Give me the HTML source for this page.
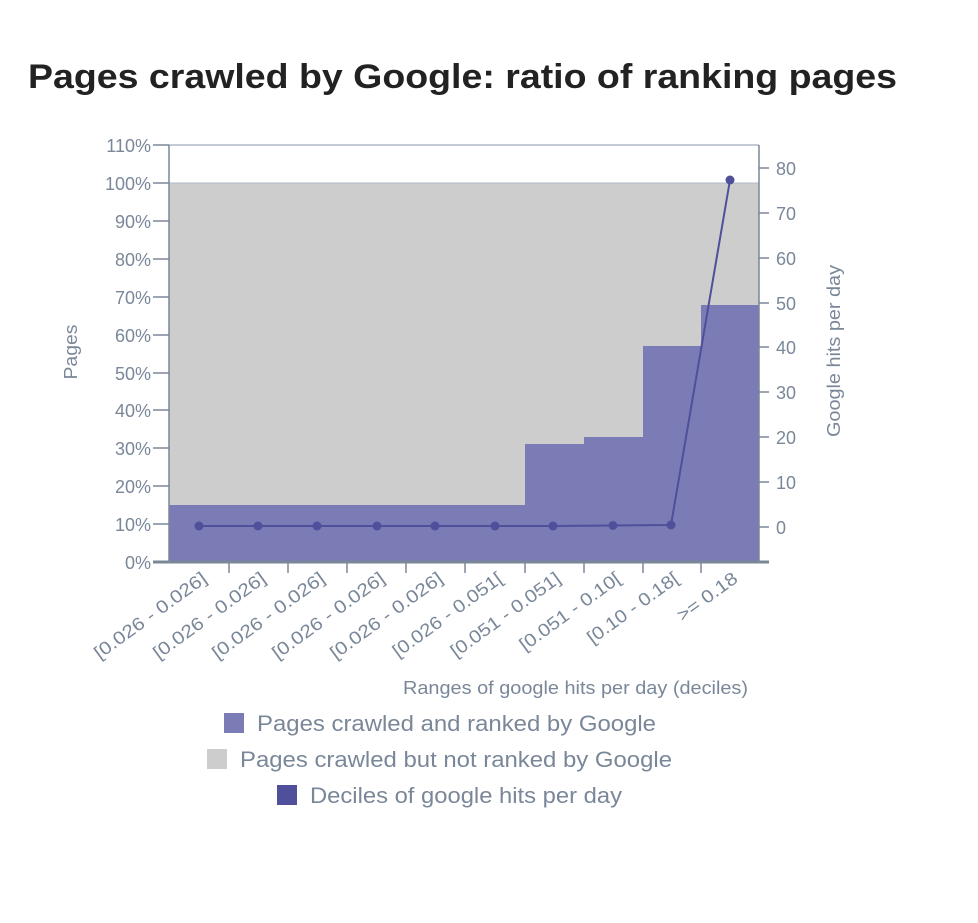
<!DOCTYPE html>
<html><head><meta charset="utf-8"><style>
body{margin:0;background:#fff;}
svg text{font-family:"Liberation Sans",sans-serif;}
</style></head><body>
<svg width="978" height="918" xmlns="http://www.w3.org/2000/svg">
<rect width="978" height="918" fill="#fff"/>
<text x="28" y="88" font-size="34" fill="#222" font-weight="bold" textLength="869" lengthAdjust="spacingAndGlyphs">Pages crawled by Google: ratio of ranking pages</text>
<rect x="169" y="183" width="590" height="379" fill="#cdcdcd"/>
<line x1="169" y1="183" x2="759" y2="183" stroke="#b0bac8" stroke-width="1"/>
<line x1="169" y1="145" x2="759" y2="145" stroke="#b0bac8" stroke-width="1.5"/>
<g fill="#7b7bb6">
<rect x="169" y="505" width="356" height="57"/>
<rect x="525" y="444" width="59" height="118"/>
<rect x="584" y="437" width="59" height="125"/>
<rect x="643" y="346" width="58" height="216"/>
<rect x="701" y="305" width="58" height="257"/>
</g>
<g stroke="#7a8799" stroke-width="1.5">
<line x1="169" y1="145" x2="169" y2="562"/>
<line x1="759" y1="145" x2="759" y2="562"/>
<line x1="153" y1="562" x2="769" y2="562" stroke-width="3"/>
</g>
<g stroke="#7a8799" stroke-width="1.5">
<line x1="153" y1="145" x2="169" y2="145"/><line x1="153" y1="183" x2="169" y2="183"/>
<line x1="153" y1="221" x2="169" y2="221"/><line x1="153" y1="259" x2="169" y2="259"/>
<line x1="153" y1="297" x2="169" y2="297"/><line x1="153" y1="335" x2="169" y2="335"/>
<line x1="153" y1="373" x2="169" y2="373"/><line x1="153" y1="410" x2="169" y2="410"/>
<line x1="153" y1="448" x2="169" y2="448"/><line x1="153" y1="486" x2="169" y2="486"/>
<line x1="153" y1="524" x2="169" y2="524"/>
<line x1="759" y1="168" x2="769" y2="168"/><line x1="759" y1="213" x2="769" y2="213"/>
<line x1="759" y1="258" x2="769" y2="258"/><line x1="759" y1="303" x2="769" y2="303"/>
<line x1="759" y1="347" x2="769" y2="347"/><line x1="759" y1="392" x2="769" y2="392"/>
<line x1="759" y1="437" x2="769" y2="437"/><line x1="759" y1="482" x2="769" y2="482"/>
<line x1="759" y1="527" x2="769" y2="527"/>
<line x1="229" y1="562" x2="229" y2="573"/><line x1="288" y1="562" x2="288" y2="573"/>
<line x1="347" y1="562" x2="347" y2="573"/><line x1="406" y1="562" x2="406" y2="573"/>
<line x1="465" y1="562" x2="465" y2="573"/><line x1="525" y1="562" x2="525" y2="573"/>
<line x1="584" y1="562" x2="584" y2="573"/><line x1="643" y1="562" x2="643" y2="573"/>
<line x1="701" y1="562" x2="701" y2="573"/>
</g>
<g font-size="18" fill="#7a8799" text-anchor="end">
<text x="151" y="152">110%</text><text x="151" y="190">100%</text>
<text x="151" y="228">90%</text><text x="151" y="266">80%</text>
<text x="151" y="304">70%</text><text x="151" y="342">60%</text>
<text x="151" y="380">50%</text><text x="151" y="417">40%</text>
<text x="151" y="455">30%</text><text x="151" y="493">20%</text>
<text x="151" y="531">10%</text><text x="151" y="569">0%</text>
</g>
<g font-size="18" fill="#7a8799">
<text x="776" y="175">80</text><text x="776" y="220">70</text>
<text x="776" y="265">60</text><text x="776" y="310">50</text>
<text x="776" y="354">40</text><text x="776" y="399">30</text>
<text x="776" y="444">20</text><text x="776" y="489">10</text>
<text x="776" y="534">0</text>
</g>
<g font-size="18" fill="#7a8799" text-anchor="end">
<text transform="translate(208,581) rotate(-36)" textLength="134" lengthAdjust="spacingAndGlyphs">[0.026 - 0.026]</text>
<text transform="translate(267,581) rotate(-36)" textLength="134" lengthAdjust="spacingAndGlyphs">[0.026 - 0.026]</text>
<text transform="translate(326,581) rotate(-36)" textLength="134" lengthAdjust="spacingAndGlyphs">[0.026 - 0.026]</text>
<text transform="translate(386,581) rotate(-36)" textLength="134" lengthAdjust="spacingAndGlyphs">[0.026 - 0.026]</text>
<text transform="translate(444,581) rotate(-36)" textLength="134" lengthAdjust="spacingAndGlyphs">[0.026 - 0.026]</text>
<text transform="translate(504,581) rotate(-36)" textLength="131" lengthAdjust="spacingAndGlyphs">[0.026 - 0.051[</text>
<text transform="translate(562,581) rotate(-36)" textLength="131" lengthAdjust="spacingAndGlyphs">[0.051 - 0.051]</text>
<text transform="translate(622,581) rotate(-36)" textLength="120" lengthAdjust="spacingAndGlyphs">[0.051 - 0.10[</text>
<text transform="translate(680,581) rotate(-36)" textLength="108" lengthAdjust="spacingAndGlyphs">[0.10 - 0.18[</text>
<text transform="translate(739,581) rotate(-36)" textLength="70" lengthAdjust="spacingAndGlyphs">&gt;= 0.18</text>
</g>
<text transform="translate(77,352) rotate(-90)" font-size="18" fill="#7a8799" text-anchor="middle" textLength="55" lengthAdjust="spacingAndGlyphs">Pages</text>
<text transform="translate(840,351) rotate(-90)" font-size="18" fill="#7a8799" text-anchor="middle" textLength="172" lengthAdjust="spacingAndGlyphs">Google hits per day</text>
<text x="403" y="694" font-size="18" fill="#7a8799" textLength="345" lengthAdjust="spacingAndGlyphs">Ranges of google hits per day (deciles)</text>
<polyline fill="none" stroke="#4f4f9c" stroke-width="2" points="199,526 258,526 317,526 377,526 435,526 495,526 553,526 613,525.5 671,525 730,180"/>
<g fill="#4f4f9c">
<circle cx="199" cy="526" r="4.5"/><circle cx="258" cy="526" r="4.5"/><circle cx="317" cy="526" r="4.5"/>
<circle cx="377" cy="526" r="4.5"/><circle cx="435" cy="526" r="4.5"/><circle cx="495" cy="526" r="4.5"/>
<circle cx="553" cy="526" r="4.5"/><circle cx="613" cy="525.5" r="4.5"/><circle cx="671" cy="525" r="4.5"/>
<circle cx="730" cy="180" r="4.5"/>
</g>
<rect x="224" y="713" width="20" height="20" fill="#7b7bb6"/>
<text x="257" y="731" font-size="22" fill="#7a8799" textLength="399" lengthAdjust="spacingAndGlyphs">Pages crawled and ranked by Google</text>
<rect x="207" y="749" width="20" height="20" fill="#cdcdcd"/>
<text x="240" y="767" font-size="22" fill="#7a8799" textLength="432" lengthAdjust="spacingAndGlyphs">Pages crawled but not ranked by Google</text>
<rect x="277" y="785" width="20" height="20" fill="#4f4f9c"/>
<text x="310" y="803" font-size="22" fill="#7a8799" textLength="312" lengthAdjust="spacingAndGlyphs">Deciles of google hits per day</text>
</svg>
</body></html>
